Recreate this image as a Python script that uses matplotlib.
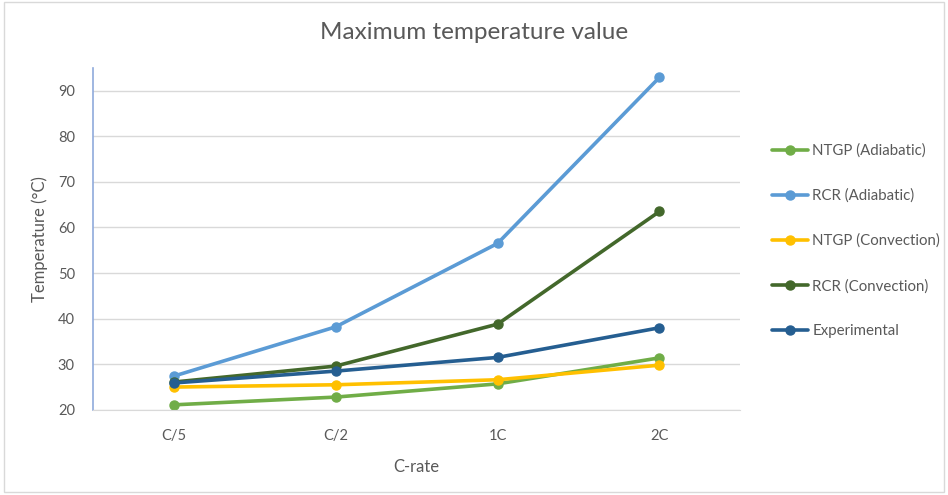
import numpy as np
import matplotlib.pyplot as plt

plt.rcParams["font.family"] = ["Lato", "DejaVu Sans"]

c_rates = ["C/5", "C/2", "1C", "2C"]
ntgp_adiabatic = [21.1, 22.8, 25.7, 31.4]
rcr_adiabatic = [27.4, 38.2, 56.5, 92.9]
ntgp_convection = [25.0, 25.5, 26.6, 29.8]
rcr_convection = [26.1, 29.6, 38.8, 63.5]
experimental = [25.9, 28.5, 31.5, 38.0]

series = [
    ("NTGP (Adiabatic)", ntgp_adiabatic, "#70AD47"),
    ("RCR (Adiabatic)", rcr_adiabatic, "#5B9BD5"),
    ("NTGP (Convection)", ntgp_convection, "#FFC000"),
    ("RCR (Convection)", rcr_convection, "#43682B"),
    ("Experimental", experimental, "#255E91"),
]

text_col = "#595959"
fig = plt.figure(figsize=(9.48, 4.95), dpi=100)
ax = fig.add_axes([0.098, 0.172, 0.683, 0.691])

x = np.arange(len(c_rates))
for name, vals, col in series:
    ax.plot(x, vals, color=col, linewidth=2.6, marker="o", markersize=6.5,
            label=name, solid_capstyle="round")

ax.set_xlim(-0.5, len(c_rates) - 0.5)
ax.set_ylim(20, 95)
ax.set_yticks(np.arange(20, 91, 10))
ax.set_xticks(x)
ax.set_xticklabels(c_rates)
ax.yaxis.grid(True, color="#D9D9D9", linewidth=1)
ax.set_axisbelow(True)
for s in ["top", "right"]:
    ax.spines[s].set_visible(False)
ax.spines["bottom"].set_color("#D9D9D9")
ax.spines["left"].set_color("#8FAADC")
ax.spines["left"].set_linewidth(1.2)
ax.tick_params(axis="both", length=0, colors=text_col, labelsize=10.5)
ax.tick_params(axis="x", pad=14)
ax.tick_params(axis="y", pad=13)

ax.set_xlabel("C-rate", color=text_col, fontsize=12, labelpad=11)
ax.set_ylabel("Temperature (°C)", color=text_col, fontsize=12, labelpad=7)
fig.suptitle("Maximum temperature value", color=text_col, fontsize=17.5, y=0.955)

fig.legend(loc="upper left", bbox_to_anchor=(0.8, 0.737), frameon=False,
           fontsize=10.8, labelcolor=text_col, handlelength=2.4, handletextpad=0.3,
           labelspacing=2.05)

fig.patches.append(plt.Rectangle((0.004, 0.006), 0.992, 0.99, transform=fig.transFigure,
                                 fill=False, edgecolor="#D9D9D9", linewidth=1))

fig.savefig("out.png", dpi=100)
